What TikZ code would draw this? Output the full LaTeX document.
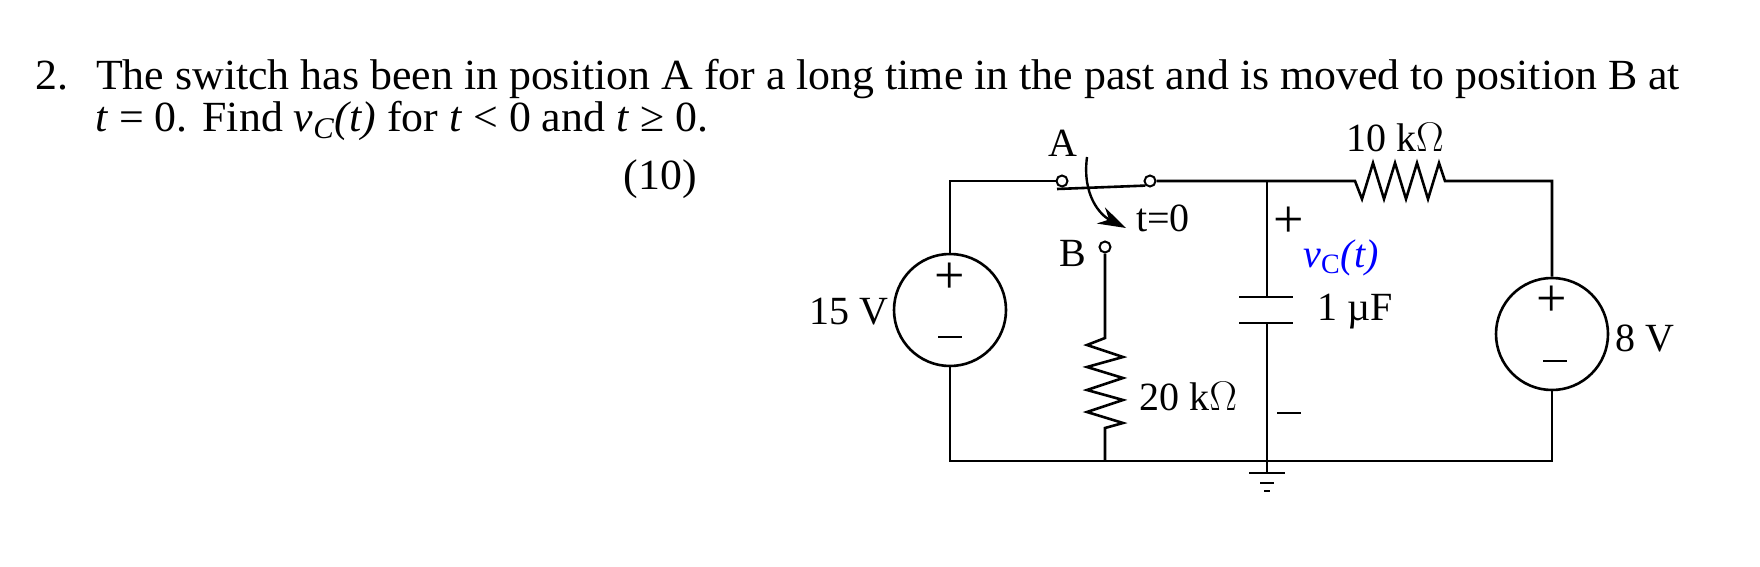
\documentclass[tikz,border=0pt]{standalone}
\usepackage{fontspec}
\setmainfont{Liberation Serif}
\newfontfamily\tfont[FakeStretch=1.02]{Liberation Serif}
\usetikzlibrary{arrows.meta}
\begin{document}
\begin{tikzpicture}[x=0.5pt,y=-0.5pt,line width=1.3pt,
  wire/.style={draw,line width=1.3pt},
  term/.style={circle,draw,line width=1pt,inner sep=0pt,minimum size=5.5pt},
  src/.style={circle,draw,line width=1.3pt,inner sep=0pt,minimum size=56pt},
  lbl/.style={font=\fontsize{20}{22}\selectfont,inner sep=0pt},
  pm/.style={font=\fontsize{27}{28}\selectfont,inner sep=0pt},
  ttl/.style={font=\tfont\fontsize{21.5}{24}\selectfont,inner sep=0pt,anchor=base west}]
\useasboundingbox (0,0) rectangle (1760,567);
% title
\node[ttl] (l1) at (34,90) {2.\hspace{14pt}The switch has been in position A for a long time in the past and is moved to position B at};
\node[ttl] (l2) at (94,132) {\textit{t} = 0. Find \textit{v\textsubscript{C}(t)} for \textit{t} < 0 and \textit{t} ≥ 0.};
\node[ttl,anchor=base east] (l3) at (698,189) {(10)};
% sources
\node[src] (s15) at (950,310) {};
\node[src] (s8) at (1552,334) {};
\node[pm] at (950,278) {+};
\node[lbl] at (950,342) {\rule[0.25em]{0.6em}{1.2pt}};
\node[pm] at (1552,301) {+};
\node[lbl] at (1555,366) {\rule[0.25em]{0.6em}{1.2pt}};
\node[lbl,anchor=east] (v15) at (890,312) {15 V};
\node[lbl,anchor=west] (v8) at (1614,338) {8 V};
% terminals
\node[term] (tA) at (1062,181) {};
\node[term] (tC) at (1150,181) {};
\node[term] (tB) at (1105,247) {};
\coordinate (j) at (1267,181);
\coordinate (g) at (1267,461);
% wires
\draw[wire] (s15.north) |- (tA.west);
\draw[wire] (s15.south) |- (g) -| (s8.south);
\draw[wire] (tC.east) -- (j) -- (1355,181)
  -- (1362,199) -- (1373,163) -- (1384,199) -- (1395,163) -- (1406,199) -- (1417,163) -- (1428,199) -- (1439,163) -- (1445,181)
  -| (s8.north);
\draw[wire] (1057,189) -- (tC.south west);
\draw[wire] (tB.south) -- (1105,338) -- (1087,345) -- (1123,357) -- (1087,367) -- (1123,378) -- (1087,390) -- (1123,400) -- (1087,412) -- (1123,423) -- (1105,428) -- (1105,461);
% capacitor
\draw[wire] (j) -- (1267,297);
\draw[wire] (1239,297) -- (1293,297);
\draw[wire] (1239,323) -- (1293,323);
\draw[wire] (1267,323) -- (1267,473);
% ground
\draw[wire] (1249,473) -- (1285,473);
\draw[wire] (1260,483) -- (1274,483);
\draw[wire] (1264,491) -- (1270,491);
% switch arrow
\draw[line width=1.2pt,-{Stealth[length=14pt,width=9pt]}] (1087,157) .. controls (1082,195) and (1100,215) .. (1126,228);
% labels
\node[lbl] (lA) at (1063,143) {A};
\node[lbl] (lB) at (1073,253) {B};
\node[lbl,anchor=west] (lt) at (1135,218) {t=0};
\node[lbl] (l10) at (1395,138) {10 k$\Omega$};
\node[lbl,anchor=west] (l20) at (1138,397) {20 k$\Omega$};
\node[pm] (lp) at (1289,222) {+};
\node[lbl] (lm) at (1289,418) {\rule[0.25em]{0.6em}{1.2pt}};
\node[lbl,anchor=west,text=blue] (lv) at (1302,258) {\textit{v}\textsubscript{C}\textit{(t)}};
\node[lbl,anchor=west] (lc) at (1316,312) {1 µF};
\end{tikzpicture}
\end{document}
